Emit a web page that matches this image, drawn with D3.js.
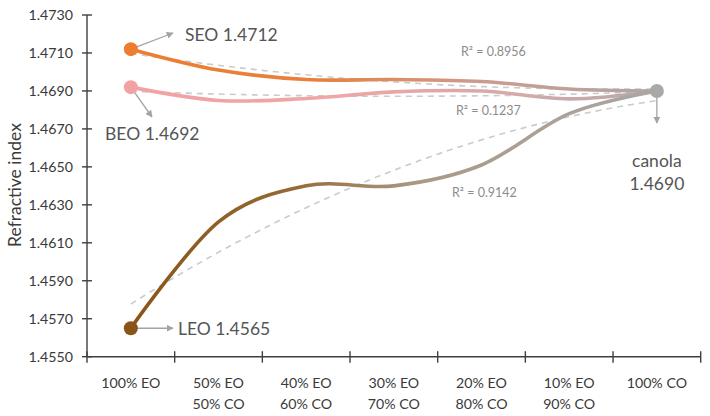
<!DOCTYPE html>
<html><head><meta charset="utf-8">
<script src="https://cdn.jsdelivr.net/npm/d3@7/dist/d3.min.js"></script>
<style>
html,body{margin:0;padding:0;background:#fff;}
svg text{font-family:Lato,"Open Sans",sans-serif;}
</style></head>
<body><svg id="c" width="710" height="416"></svg>
<script>
const categories = [["100% EO"],["50% EO","50% CO"],["40% EO","60% CO"],["30% EO","70% CO"],["20% EO","80% CO"],["10% EO","90% CO"],["100% CO"]];
const seoValues = [1.4712, 1.4701, 1.4696, 1.4696, 1.4695, 1.4691, 1.4690];
const beoValues = [1.4692, 1.4685, 1.4686, 1.46895, 1.4690, 1.46858, 1.4690];
const leoValues = [1.4565, 1.4621, 1.4640, 1.4640, 1.4651, 1.4678, 1.4690];
const yTicks = [1.4550,1.4570,1.4590,1.4610,1.4630,1.4650,1.4670,1.4690,1.4710,1.4730];
const r2Labels = ["R² = 0.8956","R² = 0.1237","R² = 0.9142"];

const svg = d3.select("#c");
const idx = categories.map((d,i)=>i);
const x = d3.scaleBand().domain(idx).range([87, 700.7]).padding(0);
const cx = i => x(i) + x.bandwidth()/2;
const y = d3.scaleLinear().domain([1.4550,1.4730]).range([356.7,15]);

const defs = svg.append("defs");
function grad(id, stops){
  const g = defs.append("linearGradient").attr("id",id).attr("gradientUnits","userSpaceOnUse")
    .attr("x1",cx(0)).attr("x2",cx(6)).attr("y1",0).attr("y2",0);
  stops.forEach(s=>g.append("stop").attr("offset",s[0]).attr("stop-color",s[1]));
}
grad("gSEO",[[0,"#ED7D31"],[0.35,"#E8803C"],[0.65,"#CE9A8C"],[1,"#B0A6A6"]]);
grad("gBEO",[[0,"#F2A2A2"],[0.4,"#EFA6A6"],[0.75,"#D4A9A9"],[1,"#B4AAAA"]]);
grad("gLEO",[[0,"#8A5418"],[0.3,"#946934"],[0.55,"#AA9A86"],[1,"#AAA7A4"]]);
defs.append("marker").attr("id","arr").attr("viewBox","0 0 10 10").attr("refX",9).attr("refY",5)
  .attr("markerWidth",7).attr("markerHeight",7).attr("markerUnits","userSpaceOnUse").attr("orient","auto")
  .append("path").attr("d","M0,0L10,5L0,10z").attr("fill","#A3A3A3");

// quadratic least-squares trend from the data
function polyFit(vals){
  const n=vals.length, ts=vals.map((v,i)=>i-(n-1)/2);
  const mean=d3.mean(vals), st2=d3.sum(ts,t=>t*t), st4=d3.sum(ts,t=>t**4);
  const b=d3.sum(vals,(v,i)=>ts[i]*v)/st2;
  const m2=st2/n;
  const c=(d3.sum(vals,(v,i)=>ts[i]*ts[i]*v)-m2*d3.sum(vals))/(st4-n*m2*m2);
  const a=mean-c*m2;
  return t=>a+b*t+c*t*t;
}
const tline = d3.line().x(d=>d[0]).y(d=>y(d[1]));
[seoValues,beoValues,leoValues].forEach(vals=>{
  const f=polyFit(vals);
  const pts=d3.range(0,6.01,0.1).map(u=>[x(0)+x.bandwidth()/2+u*x.bandwidth(), f(u-3)]);
  svg.append("path").attr("d",tline(pts)).attr("fill","none").attr("stroke","#C9CBCE")
    .attr("stroke-width",1.6).attr("stroke-dasharray","6,5");
});

// axes
const ax = svg.append("g").attr("stroke","#3F3F3F").attr("stroke-width",1.4);
ax.append("line").attr("x1",87).attr("x2",87).attr("y1",y(1.4730)).attr("y2",y(1.4550));
ax.append("line").attr("x1",87).attr("x2",700.7).attr("y1",y(1.4550)).attr("y2",y(1.4550));
yTicks.forEach(t=>ax.append("line").attr("x1",82).attr("x2",92).attr("y1",y(t)).attr("y2",y(t)));
idx.concat([7]).forEach(i=>{
  const xx = i<7 ? x(i) : x(6)+x.bandwidth();
  ax.append("line").attr("x1",xx).attr("x2",xx).attr("y1",y(1.4550)-5.5).attr("y2",y(1.4550)+6);
});
svg.append("g").selectAll("text").data(yTicks).join("text")
  .attr("x",73).attr("y",t=>y(t)+5).attr("text-anchor","end").attr("font-size",14.2)
  .attr("fill","#3A3A3A").text(t=>t.toFixed(4));
const xl = svg.append("g").selectAll("text").data(idx).join("text")
  .attr("text-anchor","middle").attr("font-size",14.2).attr("fill","#3A3A3A");
xl.each(function(i){
  const t=d3.select(this);
  categories[i].forEach((s,k)=>t.append("tspan").attr("x",cx(i)).attr("y",388+k*20.5).text(s));
});
svg.append("text").attr("transform","translate(21,185) rotate(-90)").attr("text-anchor","middle")
  .attr("font-size",17.5).attr("fill","#3A3A3A").text("Refractive index");

// series
const line = d3.line().x((d,i)=>cx(i)).y(d=>y(d)).curve(d3.curveCardinal.tension(0));
[["gBEO",beoValues],["gSEO",seoValues],["gLEO",leoValues]].forEach(([g,v])=>{
  svg.append("path").attr("d",line(v)).attr("fill","none").attr("stroke",`url(#${g})`)
    .attr("stroke-width",3.6).attr("stroke-linecap","round");
});
// R2 labels
const r2pos=[[461,56],[456,115],[452,197]];
svg.append("g").selectAll("text").data(r2Labels).join("text")
  .attr("x",(d,i)=>r2pos[i][0]).attr("y",(d,i)=>r2pos[i][1]).attr("font-size",12.5)
  .attr("fill","#8C8C8C").text(d=>d);

// arrows
const arrows=[[cx(0),y(seoValues[0]),173,33],[cx(0),y(beoValues[0]),152,117],[cx(0),y(leoValues[0]),173,y(leoValues[0])],[cx(6),y(leoValues[6]),cx(6),123]];
arrows.forEach(a=>svg.append("line").attr("x1",a[0]).attr("y1",a[1]).attr("x2",a[2]).attr("y2",a[3])
  .attr("stroke","#A3A3A3").attr("stroke-width",1.3).attr("marker-end","url(#arr)"));

// points
[[seoValues[0],"#ED7D31",0],[beoValues[0],"#F2A2A2",0],[leoValues[0],"#8A5418",0],[leoValues[6],"#A9A9A9",6]].forEach(p=>{
  svg.append("circle").attr("cx",cx(p[2])).attr("cy",y(p[0])).attr("r",7).attr("fill",p[1]);
});

// labels
const lab=[["SEO 1.4712",185,41,"start"],["BEO 1.4692",105,140,"start"],["LEO 1.4565",178,335,"start"]];
lab.forEach(l=>svg.append("text").attr("x",l[1]).attr("y",l[2]).attr("text-anchor",l[3])
  .attr("font-size",17.5).attr("fill","#555555").text(l[0]));
svg.append("text").attr("x",cx(6)).attr("y",167).attr("text-anchor","middle").attr("font-size",17.5).attr("fill","#555555").text("canola");
svg.append("text").attr("x",cx(6)).attr("y",190).attr("text-anchor","middle").attr("font-size",17.5).attr("fill","#555555").text(leoValues[6].toFixed(4));
</script></body></html>
